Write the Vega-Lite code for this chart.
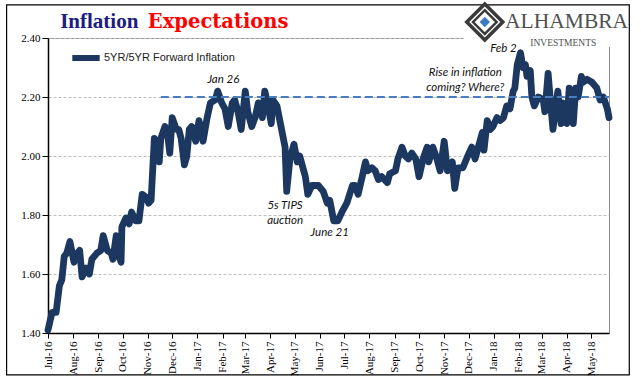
{
  "$schema": "https://vega.github.io/schema/vega-lite/v6.json",
  "width": 561,
  "height": 295,
  "autosize": {"type": "none"},
  "padding": {"left": 48, "top": 38, "right": 32, "bottom": 48},
  "background": "white",
  "config": {"view": {"stroke": "#8c8c8c", "strokeWidth": 1}},
  "datasets": {
    "series": [
      {"date": "2016-07-01", "value": 1.41}, {"date": "2016-07-06", "value": 1.47}, {"date": "2016-07-11", "value": 1.47},
      {"date": "2016-07-15", "value": 1.56}, {"date": "2016-07-18", "value": 1.58}, {"date": "2016-07-21", "value": 1.66},
      {"date": "2016-07-24", "value": 1.67}, {"date": "2016-07-28", "value": 1.71}, {"date": "2016-08-02", "value": 1.64},
      {"date": "2016-08-06", "value": 1.67}, {"date": "2016-08-09", "value": 1.68}, {"date": "2016-08-12", "value": 1.59},
      {"date": "2016-08-17", "value": 1.62}, {"date": "2016-08-21", "value": 1.60}, {"date": "2016-08-24", "value": 1.65},
      {"date": "2016-08-30", "value": 1.67}, {"date": "2016-09-04", "value": 1.68}, {"date": "2016-09-07", "value": 1.73},
      {"date": "2016-09-12", "value": 1.68}, {"date": "2016-09-17", "value": 1.67}, {"date": "2016-09-19", "value": 1.65},
      {"date": "2016-09-23", "value": 1.73}, {"date": "2016-09-25", "value": 1.67}, {"date": "2016-09-29", "value": 1.64},
      {"date": "2016-09-30", "value": 1.76}, {"date": "2016-10-05", "value": 1.79}, {"date": "2016-10-09", "value": 1.77},
      {"date": "2016-10-12", "value": 1.81}, {"date": "2016-10-17", "value": 1.78}, {"date": "2016-10-21", "value": 1.78},
      {"date": "2016-10-25", "value": 1.87}, {"date": "2016-10-30", "value": 1.86}, {"date": "2016-11-02", "value": 1.84},
      {"date": "2016-11-05", "value": 1.85}, {"date": "2016-11-09", "value": 2.06}, {"date": "2016-11-12", "value": 2.05},
      {"date": "2016-11-15", "value": 1.98}, {"date": "2016-11-17", "value": 2.06}, {"date": "2016-11-22", "value": 2.10},
      {"date": "2016-11-25", "value": 2.08}, {"date": "2016-11-28", "value": 2.01}, {"date": "2016-12-01", "value": 2.13},
      {"date": "2016-12-06", "value": 2.09}, {"date": "2016-12-09", "value": 2.09}, {"date": "2016-12-12", "value": 2.06},
      {"date": "2016-12-16", "value": 1.97}, {"date": "2016-12-19", "value": 2.00}, {"date": "2016-12-22", "value": 2.09},
      {"date": "2016-12-25", "value": 2.10}, {"date": "2016-12-30", "value": 2.05}, {"date": "2017-01-03", "value": 2.12},
      {"date": "2017-01-08", "value": 2.05}, {"date": "2017-01-13", "value": 2.13}, {"date": "2017-01-17", "value": 2.18},
      {"date": "2017-01-23", "value": 2.19}, {"date": "2017-01-26", "value": 2.22}, {"date": "2017-01-31", "value": 2.18},
      {"date": "2017-02-04", "value": 2.16}, {"date": "2017-02-08", "value": 2.10}, {"date": "2017-02-13", "value": 2.18},
      {"date": "2017-02-16", "value": 2.19}, {"date": "2017-02-20", "value": 2.15}, {"date": "2017-02-24", "value": 2.09},
      {"date": "2017-03-01", "value": 2.22}, {"date": "2017-03-04", "value": 2.15}, {"date": "2017-03-09", "value": 2.10},
      {"date": "2017-03-13", "value": 2.13}, {"date": "2017-03-17", "value": 2.18}, {"date": "2017-03-22", "value": 2.13},
      {"date": "2017-03-25", "value": 2.22}, {"date": "2017-03-29", "value": 2.17}, {"date": "2017-04-02", "value": 2.11},
      {"date": "2017-04-04", "value": 2.19}, {"date": "2017-04-09", "value": 2.17}, {"date": "2017-04-14", "value": 2.10},
      {"date": "2017-04-19", "value": 2.03}, {"date": "2017-04-21", "value": 1.88}, {"date": "2017-04-25", "value": 1.99},
      {"date": "2017-04-30", "value": 2.04}, {"date": "2017-05-04", "value": 1.98}, {"date": "2017-05-07", "value": 2.00},
      {"date": "2017-05-14", "value": 1.93}, {"date": "2017-05-17", "value": 1.87}, {"date": "2017-05-22", "value": 1.90},
      {"date": "2017-05-30", "value": 1.90}, {"date": "2017-06-05", "value": 1.88}, {"date": "2017-06-10", "value": 1.84},
      {"date": "2017-06-13", "value": 1.85}, {"date": "2017-06-18", "value": 1.78}, {"date": "2017-06-23", "value": 1.78},
      {"date": "2017-06-28", "value": 1.81}, {"date": "2017-07-04", "value": 1.84}, {"date": "2017-07-11", "value": 1.90},
      {"date": "2017-07-14", "value": 1.90}, {"date": "2017-07-18", "value": 1.87}, {"date": "2017-07-23", "value": 1.93},
      {"date": "2017-07-27", "value": 1.98}, {"date": "2017-07-30", "value": 1.95}, {"date": "2017-08-04", "value": 1.96},
      {"date": "2017-08-08", "value": 1.95}, {"date": "2017-08-12", "value": 1.92}, {"date": "2017-08-16", "value": 1.93},
      {"date": "2017-08-23", "value": 1.91}, {"date": "2017-08-26", "value": 1.94}, {"date": "2017-09-02", "value": 1.95},
      {"date": "2017-09-05", "value": 1.99}, {"date": "2017-09-10", "value": 2.03}, {"date": "2017-09-14", "value": 2.00},
      {"date": "2017-09-18", "value": 1.99}, {"date": "2017-09-22", "value": 2.01}, {"date": "2017-09-27", "value": 1.99},
      {"date": "2017-10-01", "value": 1.93}, {"date": "2017-10-06", "value": 1.99}, {"date": "2017-10-11", "value": 2.03},
      {"date": "2017-10-13", "value": 1.98}, {"date": "2017-10-18", "value": 2.03}, {"date": "2017-10-23", "value": 1.99},
      {"date": "2017-10-27", "value": 1.95}, {"date": "2017-11-01", "value": 2.05}, {"date": "2017-11-05", "value": 1.95},
      {"date": "2017-11-11", "value": 1.98}, {"date": "2017-11-14", "value": 1.89}, {"date": "2017-11-18", "value": 1.96},
      {"date": "2017-11-24", "value": 1.96}, {"date": "2017-11-30", "value": 2.00}, {"date": "2017-12-05", "value": 2.03},
      {"date": "2017-12-09", "value": 1.99}, {"date": "2017-12-13", "value": 2.03}, {"date": "2017-12-18", "value": 2.08},
      {"date": "2017-12-20", "value": 2.02}, {"date": "2017-12-24", "value": 2.12}, {"date": "2017-12-28", "value": 2.09},
      {"date": "2017-12-31", "value": 2.10}, {"date": "2018-01-05", "value": 2.13}, {"date": "2018-01-09", "value": 2.12},
      {"date": "2018-01-13", "value": 2.13}, {"date": "2018-01-17", "value": 2.17}, {"date": "2018-01-21", "value": 2.16},
      {"date": "2018-01-25", "value": 2.22}, {"date": "2018-01-27", "value": 2.23}, {"date": "2018-01-30", "value": 2.31},
      {"date": "2018-02-03", "value": 2.35}, {"date": "2018-02-06", "value": 2.30}, {"date": "2018-02-09", "value": 2.31},
      {"date": "2018-02-11", "value": 2.27}, {"date": "2018-02-15", "value": 2.29}, {"date": "2018-02-17", "value": 2.20},
      {"date": "2018-02-20", "value": 2.17}, {"date": "2018-02-25", "value": 2.20}, {"date": "2018-03-03", "value": 2.19},
      {"date": "2018-03-05", "value": 2.15}, {"date": "2018-03-09", "value": 2.28}, {"date": "2018-03-13", "value": 2.15},
      {"date": "2018-03-15", "value": 2.09}, {"date": "2018-03-18", "value": 2.16}, {"date": "2018-03-21", "value": 2.22},
      {"date": "2018-03-25", "value": 2.11}, {"date": "2018-03-27", "value": 2.18}, {"date": "2018-04-01", "value": 2.11},
      {"date": "2018-04-04", "value": 2.23}, {"date": "2018-04-09", "value": 2.11}, {"date": "2018-04-12", "value": 2.23},
      {"date": "2018-04-15", "value": 2.20}, {"date": "2018-04-19", "value": 2.27}, {"date": "2018-04-21", "value": 2.25},
      {"date": "2018-04-26", "value": 2.26}, {"date": "2018-05-02", "value": 2.25}, {"date": "2018-05-08", "value": 2.23},
      {"date": "2018-05-12", "value": 2.19}, {"date": "2018-05-16", "value": 2.20}, {"date": "2018-05-21", "value": 2.16},
      {"date": "2018-05-23", "value": 2.13}
    ],
    "notes": [
      {"date": "2017-02-02", "value": 2.258, "label": "Jan 26"},
      {"date": "2017-04-19", "value": 1.831, "label": "5s TIPS"},
      {"date": "2017-04-19", "value": 1.780, "label": "auction"},
      {"date": "2017-06-13", "value": 1.739, "label": "June 21"},
      {"date": "2018-01-13", "value": 2.362, "label": "Feb 2"},
      {"date": "2017-11-27", "value": 2.281, "label": "Rise in inflation"},
      {"date": "2017-11-27", "value": 2.230, "label": "coming? Where?"}
    ],
    "frame": [{"date": "2016-05-11", "date2": "2018-06-17", "value": 2.512, "value2": 1.258}],
    "cover": [{"date": "2017-11-25", "date2": "2018-05-29", "value": 2.42, "value2": 2.3695}],
    "reference": [{"date": "2016-11-17", "date2": "2018-05-23", "value": 2.2}],
    "title1": [{"date": "2016-07-16", "value": 2.434, "label": "Inflation"}],
    "title2": [{"date": "2016-11-01", "value": 2.434, "label": "Expectations"}],
    "brand": [{"date": "2018-01-15", "value": 2.434, "label": "ALHAMBRA"}],
    "brand2": [{"date": "2018-02-15", "value": 2.372, "label": "INVESTMENTS"}],
    "logo": [{"date": "2017-12-21", "value": 2.454}]
  },
  "encoding": {
    "x": {
      "field": "date", "type": "temporal",
      "scale": {"type": "utc", "domain": [1467331200000, 1527033600000]},
      "axis": {
        "title": null,
        "labelExpr": "utcFormat(datum.value, '%b-%y')",
        "tickCount": {"interval": "month", "step": 1},
        "labelAngle": 270, "labelFont": "Liberation Serif", "labelFontSize": 11, "labelColor": "#000",
        "tickColor": "#000", "tickSize": 5, "domainColor": "#000", "domainWidth": 1.5, "labelPadding": 3,
        "grid": false, "labelOverlap": false, "labelBound": false, "labelFlush": false
      }
    },
    "y": {
      "field": "value", "type": "quantitative",
      "scale": {"domain": [1.4, 2.4], "nice": false, "zero": false},
      "axis": {
        "title": null, "format": ".2f", "values": [1.4, 1.6, 1.8, 2.0, 2.2, 2.4],
        "labelFont": "Liberation Serif", "labelFontSize": 11, "labelColor": "#000",
        "tickColor": "#000", "tickSize": 6, "domainColor": "#000", "domainWidth": 1.5, "labelPadding": 2,
        "grid": true, "gridColor": "#bdbdbd", "gridDash": [3, 2], "gridWidth": 1
      }
    }
  },
  "layer": [
    {
      "data": {"name": "frame"},
      "mark": {"type": "rect", "fillOpacity": 0, "stroke": "#000", "strokeWidth": 1.2, "clip": false},
      "encoding": {"x2": {"field": "date2"}, "y2": {"field": "value2"}}
    },
    {
      "data": {"name": "cover"},
      "mark": {"type": "rect", "fill": "#ffffff", "fillOpacity": 1, "strokeWidth": 0, "clip": false},
      "encoding": {"x2": {"field": "date2"}, "y2": {"field": "value2"}}
    },
    {
      "data": {"name": "series"},
      "mark": {"type": "line", "strokeWidth": 6.8, "strokeCap": "round", "strokeJoin": "round"},
      "encoding": {
        "color": {
          "datum": "5YR/5YR Forward Inflation",
          "scale": {"range": ["#1d3860"]},
          "legend": {
            "title": null, "orient": "none", "legendX": 21, "legendY": 3, "padding": 0,
            "symbolType": "stroke", "symbolStrokeWidth": 6, "symbolSize": 750,
            "labelFont": "Liberation Sans", "labelFontSize": 11, "labelColor": "#222", "labelOffset": 1
          }
        }
      }
    },
    {
      "data": {"name": "reference"},
      "mark": {"type": "rule", "color": "#4a7dbd", "strokeWidth": 2, "strokeDash": [8, 4]},
      "encoding": {"x2": {"field": "date2"}}
    },
    {
      "data": {"name": "notes"},
      "mark": {"type": "text", "font": "Lato", "fontStyle": "italic", "fontSize": 11.5, "color": "#111", "align": "center", "baseline": "middle"},
      "encoding": {"text": {"field": "label"}}
    },
    {
      "data": {"name": "title1"},
      "mark": {"type": "text", "font": "Liberation Serif", "fontWeight": "bold", "fontSize": 21, "color": "#1c1c84", "align": "left", "baseline": "alphabetic", "clip": false},
      "encoding": {"text": {"field": "label"}}
    },
    {
      "data": {"name": "title2"},
      "mark": {"type": "text", "font": "DejaVu Serif", "fontWeight": "bold", "fontSize": 19.5, "color": "#ff0000", "align": "left", "baseline": "alphabetic", "clip": false},
      "encoding": {"text": {"field": "label"}}
    },
    {
      "data": {"name": "brand"},
      "mark": {"type": "text", "font": "Liberation Serif", "fontSize": 21.5, "color": "#505050", "align": "left", "baseline": "alphabetic", "clip": false},
      "encoding": {"text": {"field": "label"}}
    },
    {
      "data": {"name": "brand2"},
      "mark": {"type": "text", "font": "Liberation Serif", "fontSize": 9.5, "color": "#505050", "align": "left", "baseline": "alphabetic", "clip": false},
      "encoding": {"text": {"field": "label"}}
    },
    {
      "data": {"name": "logo"},
      "mark": {"type": "point", "shape": "diamond", "size": 1300, "filled": false, "stroke": "#3a3a3a", "strokeWidth": 3.5, "opacity": 1, "clip": false}
    },
    {
      "data": {"name": "logo"},
      "mark": {"type": "point", "shape": "diamond", "size": 560, "filled": false, "stroke": "#3a3a3a", "strokeWidth": 2.5, "opacity": 1, "clip": false}
    },
    {
      "data": {"name": "logo"},
      "mark": {"type": "point", "shape": "diamond", "size": 110, "filled": true, "color": "#3b7dc4", "opacity": 1, "clip": false}
    }
  ]
}
